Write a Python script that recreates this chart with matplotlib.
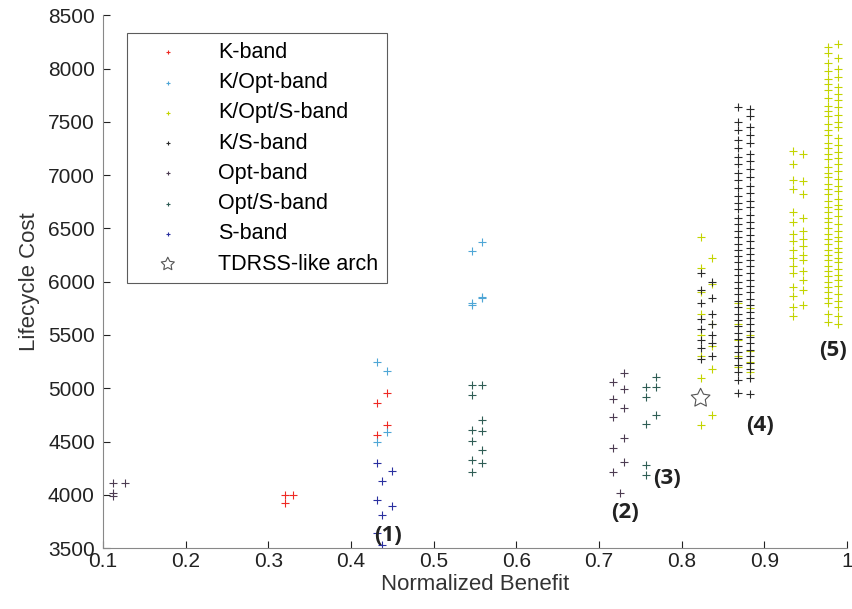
import matplotlib.pyplot as plt

plt.rcParams["font.family"] = ["Liberation Sans", "DejaVu Sans"]

# Data (normalized benefit, lifecycle cost)
k_x = [0.320, 0.330, 0.320, 0.432, 0.444, 0.432, 0.444]
k_y = [4000, 4000, 3920, 4860, 4954, 4560, 4654]

kopt_x = [0.432, 0.444, 0.546, 0.558, 0.546, 0.558, 0.546, 0.558, 0.432, 0.444]
kopt_y = [5245, 5160, 6290, 6370, 5780, 5850, 5800, 5860, 4494, 4590]

kopts_x1 = [0.977] * 46
kopts_y1 = [8200, 8150, 8050, 7980, 7900, 7850, 7800, 7720, 7650, 7600, 7550, 7480,
            7420, 7380, 7300, 7250, 7200, 7150, 7080, 7020, 6980, 6920, 6870, 6820,
            6760, 6700, 6650, 6600, 6560, 6500, 6450, 6400, 6350, 6300, 6250, 6200,
            6150, 6100, 6050, 6000, 5950, 5900, 5850, 5800, 5700, 5620]
kopts_x2 = [0.989] * 41
kopts_y2 = [8230, 8100, 8000, 7920, 7830, 7760, 7700, 7640, 7560, 7500, 7450, 7350,
            7280, 7220, 7160, 7100, 7040, 6960, 6900, 6850, 6780, 6720, 6680, 6620,
            6540, 6480, 6420, 6380, 6320, 6280, 6220, 6180, 6120, 6060, 6020, 5960,
            5880, 5820, 5760, 5680, 5600]
kopts_x3 = [0.935] * 16
kopts_y3 = [7230, 7100, 6950, 6870, 6650, 6560, 6450, 6380, 6300, 6220, 6150, 6080,
            5950, 5870, 5760, 5680]
kopts_x4 = [0.947] * 13
kopts_y4 = [7200, 6940, 6820, 6600, 6480, 6400, 6330, 6250, 6200, 6100, 6020, 5920, 5780]
kopts_x5 = [0.823] * 8 + [0.837] * 6 + [0.868] * 5 + [0.883] * 5
kopts_y5 = [6417, 6127, 5900, 5700, 5500, 5300, 5100, 4654,
            6220, 5980, 5600, 5400, 5180, 4748,
            5800, 5600, 5450, 5300, 5200,
            5750, 5500, 5350, 5250, 5150]

ks_x1 = [0.868] * 40
ks_y1 = [7640, 7500, 7420, 7330, 7250, 7170, 7100, 7020, 6950, 6880, 6800, 6740,
         6680, 6600, 6540, 6480, 6420, 6350, 6300, 6240, 6180, 6120, 6060, 6000,
         5940, 5880, 5820, 5760, 5700, 5640, 5580, 5520, 5460, 5400, 5340, 5280,
         5220, 5150, 5080, 4960]
ks_x2 = [0.883] * 40
ks_y2 = [7620, 7550, 7450, 7380, 7300, 7200, 7130, 7060, 6980, 6900, 6830, 6760,
         6700, 6630, 6560, 6500, 6440, 6380, 6320, 6260, 6200, 6150, 6080, 6020,
         5960, 5900, 5840, 5780, 5720, 5660, 5600, 5540, 5480, 5420, 5360, 5300,
         5240, 5180, 5100, 4950]
ks_x3 = [0.823] * 8 + [0.837] * 7
ks_y3 = [6080, 5920, 5800, 5650, 5560, 5450, 5380, 5270,
         6000, 5850, 5700, 5600, 5500, 5420, 5300]

opt_x = [0.112, 0.127, 0.112, 0.112,
         0.730, 0.717, 0.730, 0.717, 0.730, 0.717, 0.730, 0.717, 0.730, 0.717, 0.725]
opt_y = [4110, 4110, 4016, 3990,
         5141, 5057, 4991, 4898, 4813, 4729, 4532, 4438, 4307, 4213, 4016]

opts_x = [0.546, 0.558, 0.546, 0.558, 0.546, 0.558, 0.546, 0.558, 0.546, 0.558, 0.546,
          0.769, 0.757, 0.769, 0.757, 0.769, 0.757, 0.757, 0.757]
opts_y = [5029, 5029, 4935, 4700, 4607, 4597, 4503, 4419, 4325, 4297, 4213,
          5104, 5010, 5010, 4916, 4748, 4663, 4279, 4185]

s_x = [0.449, 0.437, 0.449, 0.437, 0.437, 0.432, 0.432, 0.432]
s_y = [4222, 4128, 3894, 3810, 3528, 4300, 3950, 3640]

tdrss_x = [0.823]
tdrss_y = [4907]

labels = ["(1)", "(2)", "(3)", "(4)", "(5)"]
label_x = [0.445, 0.732, 0.782, 0.895, 0.983]
label_y = [3620, 3838, 4157, 4654, 5357]

fig = plt.figure(figsize=(8.52, 6.09), dpi=100)
ax = fig.add_axes([0.121, 0.100, 0.873, 0.875])

mk = dict(marker="+", s=26, linewidths=0.8)
ax.scatter(k_x, k_y, color="#ee2a24", label="K-band", **mk)
ax.scatter(kopt_x, kopt_y, color="#4fa6d6", label="K/Opt-band", **mk)
ax.scatter(kopts_x1 + kopts_x2 + kopts_x3 + kopts_x4 + kopts_x5,
           kopts_y1 + kopts_y2 + kopts_y3 + kopts_y4 + kopts_y5,
           color="#c3d400", label="K/Opt/S-band", **mk)
ax.scatter(ks_x1 + ks_x2 + ks_x3, ks_y1 + ks_y2 + ks_y3,
           color="#2b2b2b", label="K/S-band", **mk)
ax.scatter(opt_x, opt_y, color="#4d3c52", label="Opt-band", **mk)
ax.scatter(opts_x, opts_y, color="#2f5d55", label="Opt/S-band", **mk)
ax.scatter(s_x, s_y, color="#2a30a0", label="S-band", **mk)
ax.scatter(tdrss_x, tdrss_y, marker=(5, 1, 0), s=200, facecolors="none",
           edgecolors="#555555", linewidths=0.8, label="TDRSS-like arch")

for t, x, y in zip(labels, label_x, label_y):
    ax.text(x, y, t, fontsize=16, fontweight="bold", family="Open Sans",
            color="#222222", ha="center", va="center")

ax.set_xlim(0.1, 1.0)
ax.set_ylim(3500, 8500)
ax.set_xticks([0.1, 0.2, 0.3, 0.4, 0.5, 0.6, 0.7, 0.8, 0.9, 1.0])
ax.set_xticklabels(["0.1", "0.2", "0.3", "0.4", "0.5", "0.6", "0.7", "0.8", "0.9", "1"])
ax.set_yticks([3500, 4000, 4500, 5000, 5500, 6000, 6500, 7000, 7500, 8000, 8500])
ax.tick_params(direction="in", length=5, width=0.8, labelsize=15, colors="#222222")
ax.tick_params(axis="x", pad=3)
ax.tick_params(axis="y", pad=6)
for side in ["top", "right"]:
    ax.spines[side].set_visible(False)
for side in ["left", "bottom"]:
    ax.spines[side].set_color("#888888")
ax.set_xlabel("Normalized Benefit", fontsize=16, color="#333333", labelpad=2)
ax.set_ylabel("Lifecycle Cost", fontsize=16, color="#333333", labelpad=6)

leg = ax.legend(loc="upper left", bbox_to_anchor=(0.032, 0.966), fontsize=15.5,
                frameon=True, fancybox=False, edgecolor="#333333",
                labelspacing=0.43, handlelength=3.0, handletextpad=0.85,
                borderpad=0.4, borderaxespad=0, markerscale=0.7)
leg.get_frame().set_linewidth(0.8)

fig.savefig("out.png", dpi=100)
